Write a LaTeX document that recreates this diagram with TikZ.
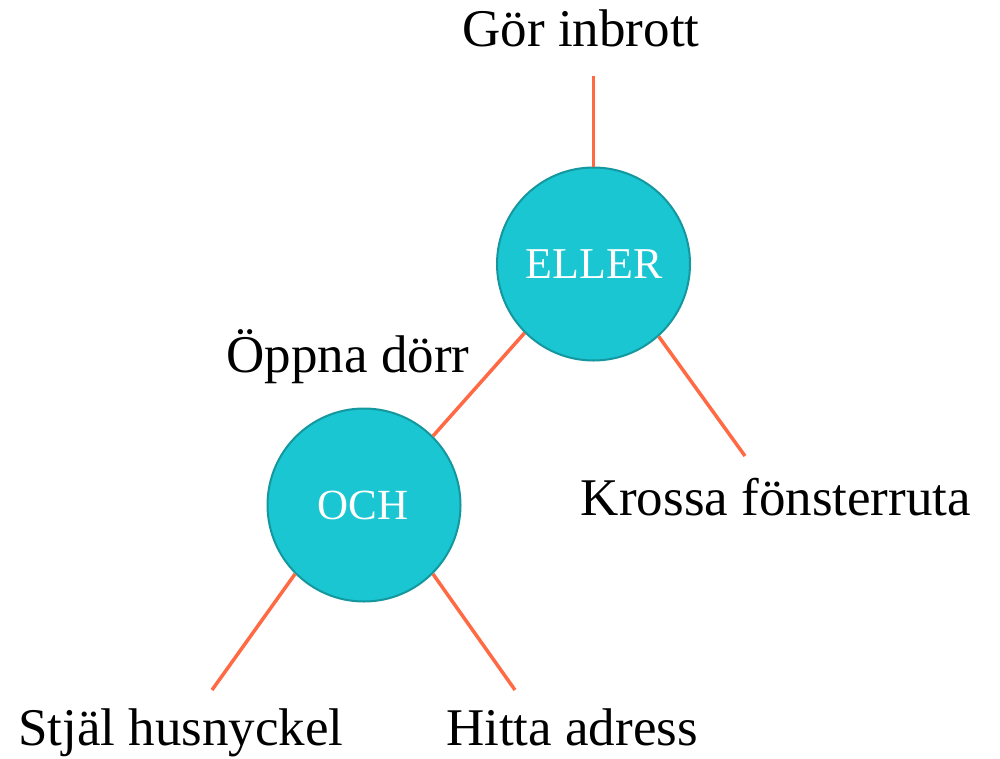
\documentclass[tikz,border=0pt]{standalone}
\usepackage{fontspec}
\setmainfont{Liberation Serif}
\definecolor{gatefill}{HTML}{19C6D1}
\definecolor{gateedge}{HTML}{14979E}
\definecolor{edgeline}{HTML}{FF6A45}
\tikzset{
  gate/.style={circle, fill=gatefill, draw=gateedge, line width=2pt, minimum size=193pt, inner sep=0pt},
  gatetext/.style={anchor=base, inner sep=0pt, text=white},
  lbl/.style={anchor=base, inner sep=0pt, font=\fontsize{53}{60}\selectfont},
  conn/.style={edgeline, line width=3.5pt}
}
\begin{document}
\begin{tikzpicture}[x=1pt,y=-1pt]
\useasboundingbox (0,0) rectangle (1000,758);
\node[gate] (eller) at (593.5,264) {};
\node[gate] (och) at (364,505) {};
\node[gatetext, font=\fontsize{44}{50}\selectfont] (ellert) at (594,278) {ELLER};
\node[gatetext, font=\fontsize{43}{50}\selectfont] (ocht) at (363,519) {OCH};
\node[lbl] (top) at (581,46) {Gör inbrott};
\node[lbl] (oppna) at (348,372.5) {Öppna dörr};
\node[lbl] (krossa) at (776,515) {Krossa fönsterruta};
\node[lbl] (stjal) at (181,745) {Stjäl husnyckel};
\node[lbl] (hitta) at (572,745) {Hitta adress};
\coordinate (ctop) at (593.5,76);
\coordinate (ckr) at (745,456);
\coordinate (cst) at (212,690);
\coordinate (chi) at (515,690);
\draw[conn] (ctop) -- (eller.north);
\draw[conn] (eller.225) -- (och.45);
\draw[conn] (eller.-48) -- (ckr);
\draw[conn] (och.-135) -- (cst);
\draw[conn] (och.-45) -- (chi);
\end{tikzpicture}
\end{document}
